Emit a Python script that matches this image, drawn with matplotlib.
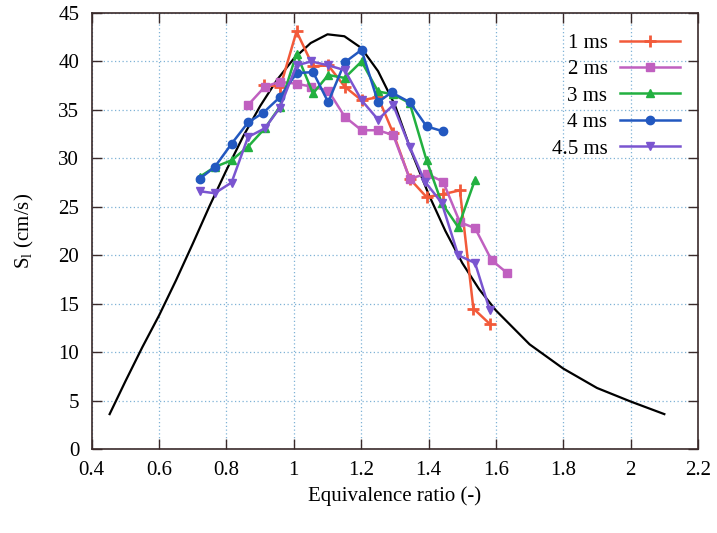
import matplotlib
matplotlib.use("Agg")
import matplotlib.pyplot as plt

# Model curve (black)
model_phi = [0.453, 0.50, 0.55, 0.60, 0.65, 0.70, 0.75, 0.80, 0.85, 0.90, 0.95, 1.00, 1.05,
             1.10, 1.15, 1.20, 1.25, 1.30, 1.35, 1.40, 1.45, 1.50, 1.55, 1.60, 1.70, 1.80,
             1.90, 2.00, 2.10]
model_sl = [3.6, 7.0, 10.5, 13.8, 17.4, 21.2, 25.1, 28.8, 32.3, 35.4, 38.1, 40.3, 41.9,
            42.8, 42.6, 41.4, 39.0, 35.5, 30.6, 26.3, 22.5, 19.2, 16.5, 14.3, 10.8, 8.3,
            6.3, 4.9, 3.6]

# Experimental series
phi_1ms = [0.91, 0.96, 1.008, 1.057, 1.102, 1.151, 1.201, 1.25, 1.295, 1.344, 1.394, 1.443, 1.493, 1.533, 1.582]
sl_1ms = [37.6, 37.4, 43.1, 39.5, 39.6, 37.4, 36.0, 36.3, 32.6, 27.9, 26.0, 26.3, 26.7, 14.5, 12.9]

phi_2ms = [0.864, 0.914, 0.958, 1.008, 1.052, 1.102, 1.151, 1.201, 1.25, 1.295, 1.344, 1.394, 1.443, 1.493, 1.538, 1.587, 1.632]
sl_2ms = [35.5, 37.4, 37.9, 37.7, 37.4, 37.0, 34.3, 32.9, 32.9, 32.4, 27.9, 28.4, 27.6, 23.4, 22.8, 19.5, 18.2]

phi_3ms = [0.721, 0.765, 0.815, 0.864, 0.914, 0.958, 1.008, 1.057, 1.102, 1.151, 1.201, 1.25, 1.295, 1.344, 1.394, 1.439, 1.488, 1.538]
sl_3ms = [28.1, 29.1, 29.8, 31.2, 33.1, 35.3, 40.8, 36.7, 38.6, 38.3, 40.0, 36.9, 36.6, 35.7, 29.8, 25.4, 22.9, 27.8]

phi_4ms = [0.721, 0.765, 0.815, 0.864, 0.909, 0.958, 1.008, 1.057, 1.102, 1.151, 1.201, 1.25, 1.29, 1.344, 1.394, 1.442]
sl_4ms = [27.9, 29.1, 31.5, 33.7, 34.7, 36.3, 38.8, 38.9, 35.8, 39.9, 41.2, 35.8, 36.8, 35.8, 33.3, 32.8]

phi_45ms = [0.721, 0.765, 0.815, 0.864, 0.914, 0.958, 1.008, 1.052, 1.102, 1.151, 1.201, 1.25, 1.295, 1.344, 1.389, 1.439, 1.488, 1.538, 1.582]
sl_45ms = [26.6, 26.4, 27.5, 32.2, 33.1, 35.2, 39.6, 40.0, 39.6, 39.1, 36.0, 34.0, 35.5, 31.2, 27.6, 25.4, 20.0, 19.2, 14.3]

labels = ["1 ms", "2 ms", "3 ms", "4 ms", "4.5 ms"]
colors = ["#f25a3a", "#c060c0", "#22b040", "#2258c0", "#7a55d0"]
markers = ["+", "s", "^", "o", "v"]

plt.rcParams['font.family'] = ['Liberation Serif', 'DejaVu Serif']
plt.rcParams['mathtext.fontset'] = 'custom'
plt.rcParams['mathtext.rm'] = 'Liberation Serif'

fig = plt.figure(figsize=(7.17, 5.33), dpi=100)
ax = fig.add_axes([0.128, 0.1576, 0.8455, 0.818])

ax.plot(model_phi, model_sl, color="black", lw=1.6, zorder=2)

series = [(phi_1ms, sl_1ms), (phi_2ms, sl_2ms), (phi_3ms, sl_3ms), (phi_4ms, sl_4ms), (phi_45ms, sl_45ms)]
for (x, y), lab, c, m in zip(series, labels, colors, markers):
    kw = dict(markersize=6)
    if m == "+":
        kw = dict(markersize=8, markeredgewidth=2)
    ax.plot(x, y, color=c, marker=m, lw=1.8, label=lab, zorder=3, **kw)

ax.set_xlim(0.4, 2.2)
ax.set_ylim(0, 45)
ax.set_xticks([0.4, 0.6, 0.8, 1.0, 1.2, 1.4, 1.6, 1.8, 2.0, 2.2])
ax.set_xticklabels(["0.4", "0.6", "0.8", "1", "1.2", "1.4", "1.6", "1.8", "2", "2.2"])
ax.set_yticks(range(0, 46, 5))

ax.grid(True, color="#7fb2d6", linestyle=(0, (1, 2)), lw=0.9)
ax.set_axisbelow(True)
for s in ax.spines.values():
    s.set_color("#3a2a2a")
    s.set_linewidth(1.2)
ax.tick_params(direction="in", length=7, width=1.0, top=True, right=True,
               labelsize=15, color="#3a2a2a", pad=9)

ax.set_xlabel("Equivalence ratio (-)", fontsize=15, labelpad=4)
ax.set_ylabel(r"S$_\mathregular{l}$ (cm/s)", fontsize=15, labelpad=16)

ax.legend(loc="upper right", frameon=False, markerfirst=False, fontsize=15,
          handlelength=2.9, labelspacing=0.33, bbox_to_anchor=(0.995, 0.987),
          handletextpad=0.6, borderaxespad=0.3)

fig.savefig("out.png", dpi=100)
